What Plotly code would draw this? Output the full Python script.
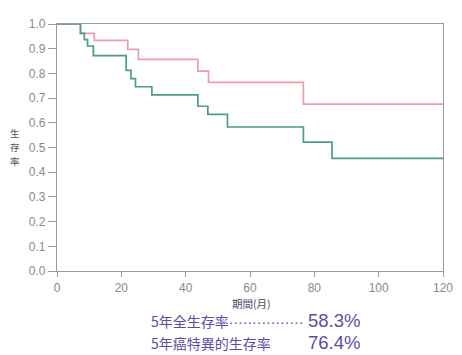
import plotly.graph_objects as go

# Kaplan-Meier step data (months, survival proportion)
css_months = [0, 7.3, 11.6, 22.0, 25.3, 43.8, 47.1, 76.6, 120]
css_surv = [1.0, 0.962, 0.934, 0.897, 0.857, 0.809, 0.764, 0.676, 0.676]

os_months = [0, 7.3, 8.5, 9.5, 11.3, 21.5, 23.0, 24.4, 29.5, 43.8, 46.9, 53.0, 76.6, 85.5, 120]
os_surv = [1.0, 0.962, 0.937, 0.911, 0.872, 0.812, 0.779, 0.746, 0.713, 0.667, 0.634, 0.583, 0.522, 0.456, 0.456]

x_ticks = [0, 20, 40, 60, 80, 100, 120]
y_ticks = [0.0, 0.1, 0.2, 0.3, 0.4, 0.5, 0.6, 0.7, 0.8, 0.9, 1.0]

y_title = "生存率"
x_title = "期間(月)"
os_label = "5年全生存率"
os_value = "58.3%"
css_label = "5年癌特異的生存率"
css_value = "76.4%"

pink = "#e99fa9"
green = "#4d9d80"
axis_col = "#9a9a9a"
text_col = "#5a4fa6"
cjk = "Noto Sans CJK JP"

fig = go.Figure()
fig.add_trace(go.Scatter(x=css_months, y=css_surv, mode="lines", line_shape="hv",
                         line=dict(color=pink, width=1.7), showlegend=False, hoverinfo="skip"))
fig.add_trace(go.Scatter(x=os_months, y=os_surv, mode="lines", line_shape="hv",
                         line=dict(color=green, width=1.7), showlegend=False, hoverinfo="skip"))

# page body has an 8px margin, so the figure is sized to fit the 462x355 window
W, H = 454, 347
L, R, T, B = 49, 14, 9, 84
pw, ph = W - L - R, H - T - B

def px(xs):
    return (xs - 8 - L) / pw

def py(ys):
    return (H - B - (ys - 8)) / ph

fig.update_layout(
    width=W, height=H,
    margin=dict(l=L, r=R, t=T, b=B),
    paper_bgcolor="white", plot_bgcolor="white",
    font=dict(family="Liberation Sans, Arial, sans-serif", color="#8a8a8a", size=12),
)
fig.update_xaxes(range=[0, 120], tickvals=x_ticks, ticks="outside", ticklen=5, tickcolor=axis_col,
                 showline=True, linecolor=axis_col, linewidth=1.2, mirror=True, showgrid=False,
                 zeroline=False, tickfont=dict(size=12, color="#8a8a8a"))
fig.update_yaxes(range=[0, 1.0], tickvals=y_ticks, tickformat=".1f", ticks="outside", ticklen=8,
                 tickcolor=axis_col, showline=True, linecolor=axis_col, linewidth=1.2, mirror=True,
                 showgrid=False, zeroline=False, tickfont=dict(size=12, color="#8a8a8a"))

# y-axis title: stacked upright characters
for i, ch in enumerate(y_title):
    fig.add_annotation(text=ch, xref="paper", yref="paper",
                       x=px(14), y=py(129 + 14.5 * i), xanchor="center", yanchor="middle",
                       showarrow=False, borderpad=0,
                       font=dict(family=cjk, size=9.5, color="#555555"))
# x-axis title
fig.add_annotation(text=x_title, xref="paper", yref="paper", x=px(254), y=py(304),
                   xanchor="center", yanchor="middle", showarrow=False, borderpad=0,
                   font=dict(family=cjk, size=10.5, color="#4a4560"))
# stats text
fig.add_annotation(text=os_label + "<span style='font-family:Liberation Sans'>················</span>",
                   xref="paper", yref="paper", x=px(150), y=py(322),
                   xanchor="left", yanchor="middle", showarrow=False,
                   font=dict(family=cjk, size=14, color=text_col))
fig.add_annotation(text=os_value, xref="paper", yref="paper", x=px(366), y=py(322),
                   xanchor="right", yanchor="middle", showarrow=False,
                   font=dict(family="Liberation Sans", size=18.5, color=text_col))
fig.add_annotation(text=css_label, xref="paper", yref="paper", x=px(150), y=py(345),
                   xanchor="left", yanchor="middle", showarrow=False,
                   font=dict(family=cjk, size=14, color=text_col))
fig.add_annotation(text=css_value, xref="paper", yref="paper", x=px(366), y=py(345),
                   xanchor="right", yanchor="middle", showarrow=False,
                   font=dict(family="Liberation Sans", size=18.5, color=text_col))

fig.write_html("out.html")
